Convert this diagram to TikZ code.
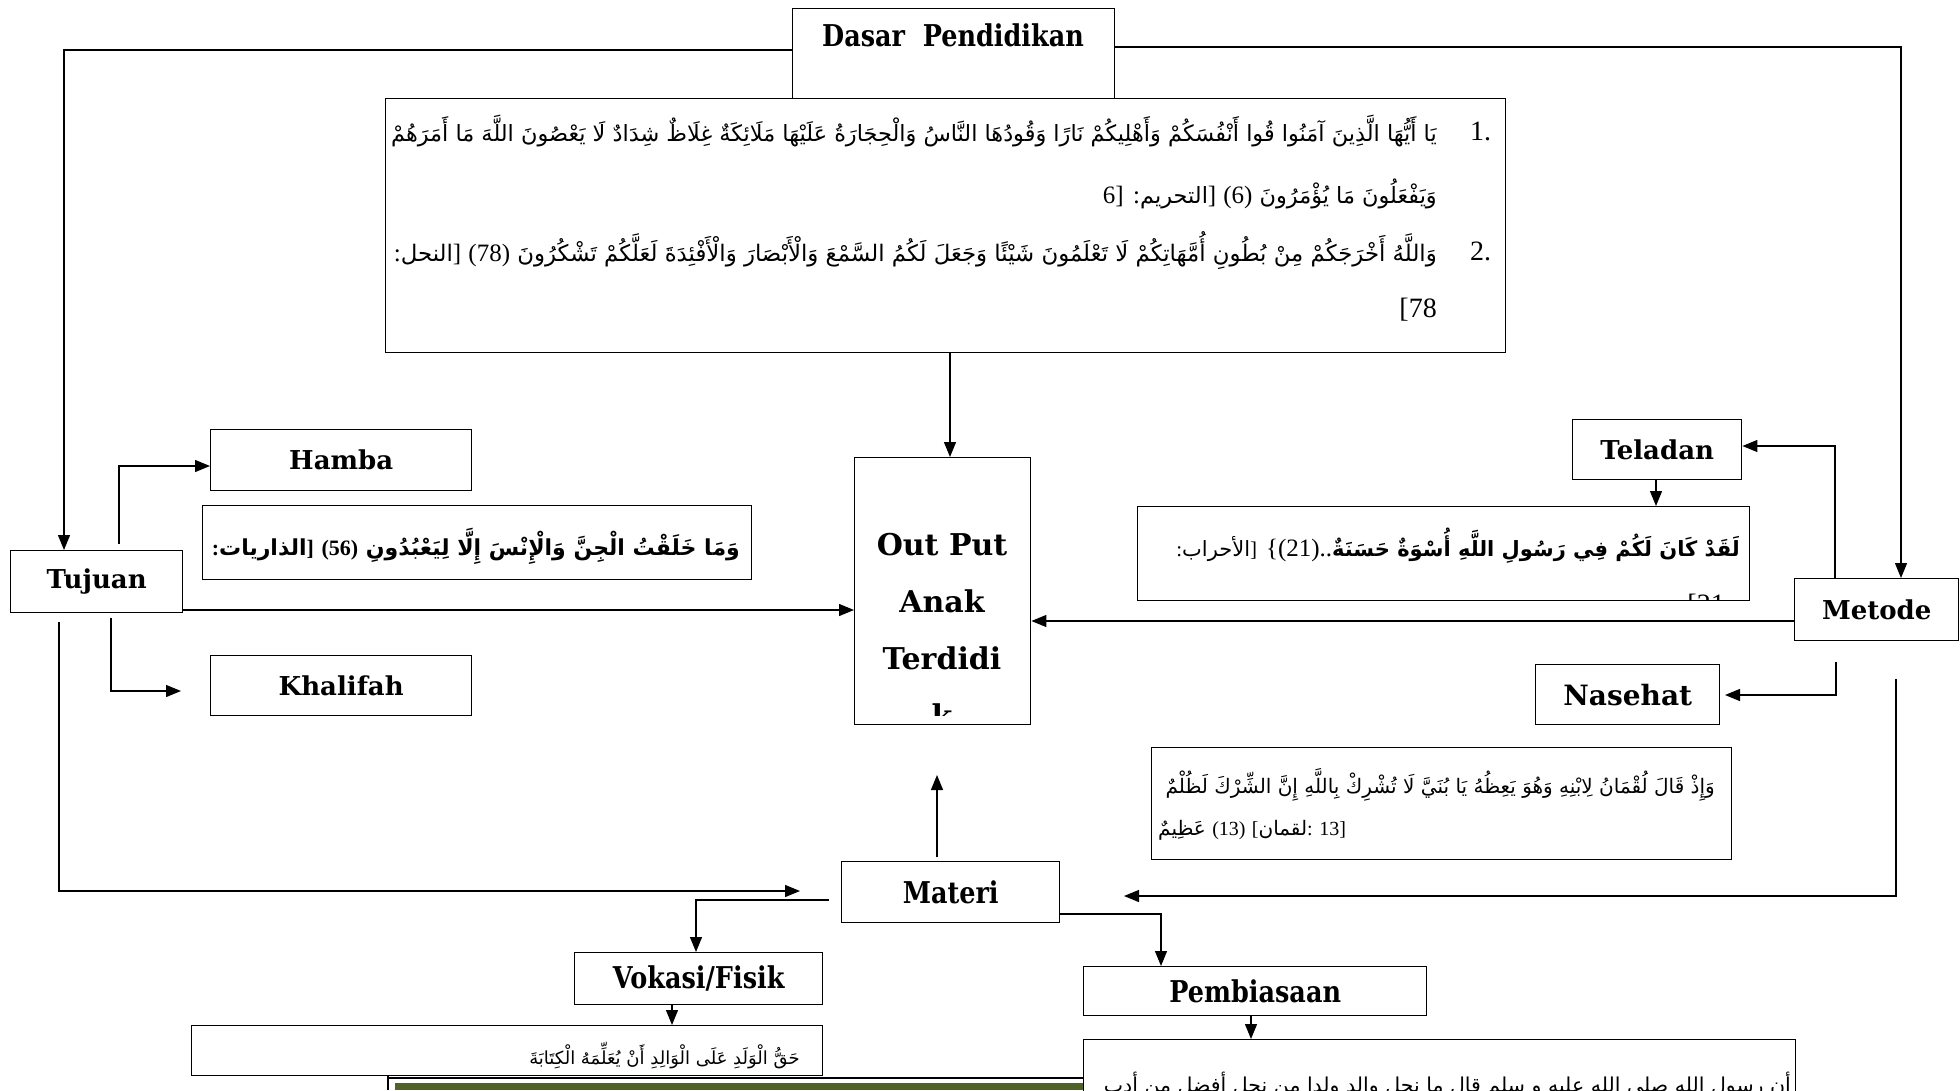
\documentclass[tikz,border=0pt]{standalone}
\usepackage{fontspec}
\setmainfont{Liberation Serif}
\newfontfamily\slab{DejaVu Serif}
\newfontfamily\slabc[FakeStretch=0.85]{DejaVu Serif}
\newfontfamily\ar[Script=Arabic]{DejaVu Sans}
\usetikzlibrary{arrows.meta}
\TeXXeTstate=1
\newcommand\LTx[1]{\beginL{\rmfamily #1}\endL}
\newcommand\LTbig[1]{\beginL{\rmfamily\fontsize{25}{28}\selectfont #1}\endL}
\definecolor{olivebar}{HTML}{4F6228}
\begin{document}
\begin{tikzpicture}[x=1pt,y=-1pt,
  box/.style={draw, line width=1.4pt, anchor=north west, inner sep=0pt},
  L/.style={font=\slab\bfseries\fontsize{26}{30}\selectfont},
  LC/.style={font=\slabc\bfseries\fontsize{30}{34}\selectfont},
  arr/.style={line width=1.3pt, -{Triangle[length=15pt,width=12pt]}},
  ln/.style={line width=1.3pt},
  A/.style={inner sep=0pt, font=\ar\fontsize{22}{26}\selectfont},
  num/.style={inner sep=0pt, font=\rmfamily\fontsize{28}{30}\selectfont}]
\useasboundingbox (0,0) rectangle (1960,1090);
\fill[white] (0,0) rectangle (1960,1090);

% boxes
\node[box, minimum width=322pt, minimum height=90pt] (dasar) at (792,8) {};
\node[LC, inner sep=0pt] (dasarT) at (953,35) {Dasar\ \ Pendidikan};
\node[box, minimum width=1120pt, minimum height=254pt] (quran) at (385,98) {};
\node[box, minimum width=176pt, minimum height=267pt] (output) at (854,457) {};
\node[box, minimum width=261pt, minimum height=61pt, L] (hamba) at (210,429) {Hamba};
\node[box, minimum width=549pt, minimum height=74pt] (dzar) at (202,505) {};
\node[box, minimum width=172pt, minimum height=62pt, L] (tujuan) at (10,550) {Tujuan};
\node[box, minimum width=261pt, minimum height=60pt, L] (khalifah) at (210,655) {Khalifah};
\node[box, minimum width=218pt, minimum height=61pt, LC] (materi) at (841,861) {Materi};
\node[box, minimum width=248pt, minimum height=52pt, LC] (vokasi) at (574,952) {Vokasi/Fisik};
\node[box, minimum width=631pt, minimum height=50pt] (hadith1) at (191,1025) {};
\node[box, minimum width=343pt, minimum height=49pt, LC] (pemb) at (1083,966) {Pembiasaan};
\node[box, minimum width=712pt, minimum height=70pt] (hadith2) at (1083,1039) {};
\node[box, minimum width=164pt, minimum height=62pt, L] (metode) at (1794,578) {Metode};
\node[box, minimum width=169pt, minimum height=60pt, L] (teladan) at (1572,419) {Teladan};
\node[box, minimum width=612pt, minimum height=94pt] (teladanAyat) at (1137,506) {};
\node[box, minimum width=184pt, minimum height=60pt, L, font=\slab\bfseries\fontsize{28}{30}\selectfont] (nasehat) at (1535,664) {Nasehat};
\node[box, minimum width=580pt, minimum height=112pt] (nasehatAyat) at (1151,747) {};

% output text (clipped)
\begin{scope}
\clip (854,457) rectangle (1030,715);
\node[font=\slab\bfseries\fontsize{30}{57}\selectfont, align=center, inner sep=0pt, anchor=north] (outT) at (942,533) {Out Put\\Anak\\Terdidi\\k};
\end{scope}

% Quran texts
\node[num, anchor=west] (n1) at (1470,131) {1.};
\node[num, anchor=west] (n2) at (1470,251) {2.};
\node[A, anchor=east, font=\ar\fontsize{22.4}{26}\selectfont] (q1a) at (1437,131) {\beginR يَا أَيُّهَا الَّذِينَ آمَنُوا قُوا أَنْفُسَكُمْ وَأَهْلِيكُمْ نَارًا وَقُودُهَا النَّاسُ وَالْحِجَارَةُ عَلَيْهَا مَلَائِكَةٌ غِلَاظٌ شِدَادٌ لَا يَعْصُونَ اللَّهَ مَا أَمَرَهُمْ\endR};
\node[A, anchor=east, font=\ar\fontsize{22.4}{26}\selectfont] (q1b) at (1437,194) {\beginR وَيَفْعَلُونَ مَا يُؤْمَرُونَ \LTbig{(6)} \LTbig{]}التحريم\LTbig{:} \LTbig{6]}\endR};
\node[A, anchor=east, font=\ar\fontsize{22.8}{26}\selectfont] (q2a) at (1437,251) {\beginR وَاللَّهُ أَخْرَجَكُمْ مِنْ بُطُونِ أُمَّهَاتِكُمْ لَا تَعْلَمُونَ شَيْئًا وَجَعَلَ لَكُمُ السَّمْعَ وَالْأَبْصَارَ وَالْأَفْئِدَةَ لَعَلَّكُمْ تَشْكُرُونَ \LTbig{(78)} \LTbig{]}النحل\LTbig{:}\endR};
\node[num, anchor=east] (q2b) at (1437,310) {[78};

% Dzariyat
\node[A, anchor=east, font=\ar\bfseries\fontsize{22}{26}\selectfont] (dzarT) at (740,546) {\beginR وَمَا خَلَقْتُ الْجِنَّ وَالْإِنْسَ إِلَّا لِيَعْبُدُونِ \LTx{(56)} \LTx{]}الذاريات\LTx{:}\endR};

% Teladan ayat (clipped)
\begin{scope}
\clip (1137,506) rectangle (1749,600);
\node[A, anchor=east, font=\ar\fontsize{21}{26}\selectfont] (telT) at (1740,546) {\beginR {\bfseries لَقَدْ كَانَ لَكُمْ فِي رَسُولِ اللَّهِ أُسْوَةٌ حَسَنَةٌ}\LTbig{\{(21)..} \LTx{]}الأحراب\LTx{:}\endR};
\node[num, anchor=east] (telT2) at (1725,606) {[21};
\end{scope}

% Nasehat ayat
\node[A, anchor=east, font=\ar\fontsize{20}{24}\selectfont] (nasT) at (1715,785) {\beginR وَإِذْ قَالَ لُقْمَانُ لِابْنِهِ وَهُوَ يَعِظُهُ يَا بُنَيَّ لَا تُشْرِكْ بِاللَّهِ إِنَّ الشِّرْكَ لَظُلْمٌ\endR};
\node[A, anchor=west, font=\ar\fontsize{20}{24}\selectfont] (nasT2) at (1158,830) {عَظِيمٌ \LTx{(13)} \LTx{[}لقمان\LTx{: 13]}};

% Hadith texts
\node[A, anchor=east, font=\ar\fontsize{18}{22}\selectfont] (h1T) at (800,1056) {\beginR حَقُّ الْوَلَدِ عَلَى الْوَالِدِ أَنْ يُعَلِّمَهُ الْكِتَابَةَ\endR};
\node[A, anchor=east, font=\ar\fontsize{20.5}{24}\selectfont] (h2T) at (1791,1085) {\beginR أن رسول الله صلى الله عليه و سلم قال ما نحل والد ولدا من نحل أفضل من أدب\endR};

% table fragment at bottom
\fill[olivebar] (395,1083) rectangle (1083,1090);
\draw[ln] (388,1076) -- (388,1090);
\draw[ln] (388,1078) -- (hadith2.west |- 0,1078);

% connectors
\draw[arr] (dasar.west |- 0,50) -| (tujuan.north -| 64,0);
\draw[arr] (dasar.east |- 0,47) -| (metode.north -| 1901,0);
\draw[arr] (quran.south -| 950,0) -- (output.north -| 950,0);
\draw[arr] (tujuan.north -| 119,0) ++(0,-6) |- (hamba.west |- 0,466);
\coordinate (kh) at (181,691);
\draw[arr] (tujuan.south -| 111,0) ++(0,5) |- (kh);
\draw[arr] (tujuan.east |- 0,610) -- (output.west |- 0,610);
\coordinate (tl) at (59,622);
\coordinate (mt) at (800,891);
\draw[arr] (tl) |- (mt);
\coordinate (mu1) at (937,857);
\coordinate (mu2) at (937,775);
\draw[arr] (mu1) -- (mu2);
\draw[arr] (materi.west |- 0,900) ++(-12,0) -| (vokasi.north -| 696,0);
\draw[arr] (vokasi.south -| 672,0) -- (hadith1.north -| 672,0);
\draw[arr] (materi.east |- 0,914) -| (pemb.north -| 1161,0);
\draw[arr] (pemb.south -| 1251,0) -- (hadith2.north -| 1251,0);
\draw[arr] (metode.north -| 1835,0) |- (teladan.east |- 0,446);
\draw[arr] (teladan.south -| 1656,0) -- (teladanAyat.north -| 1656,0);
\draw[arr] (metode.west |- 0,621) -- (output.east |- 0,621);
\coordinate (ns1) at (1836,662);
\coordinate (ns2) at (1725,695);
\draw[arr] (ns1) |- (ns2);
\coordinate (rl1) at (1896,679);
\coordinate (rl2) at (1124,896);
\draw[arr] (rl1) |- (rl2);
\end{tikzpicture}
\end{document}
